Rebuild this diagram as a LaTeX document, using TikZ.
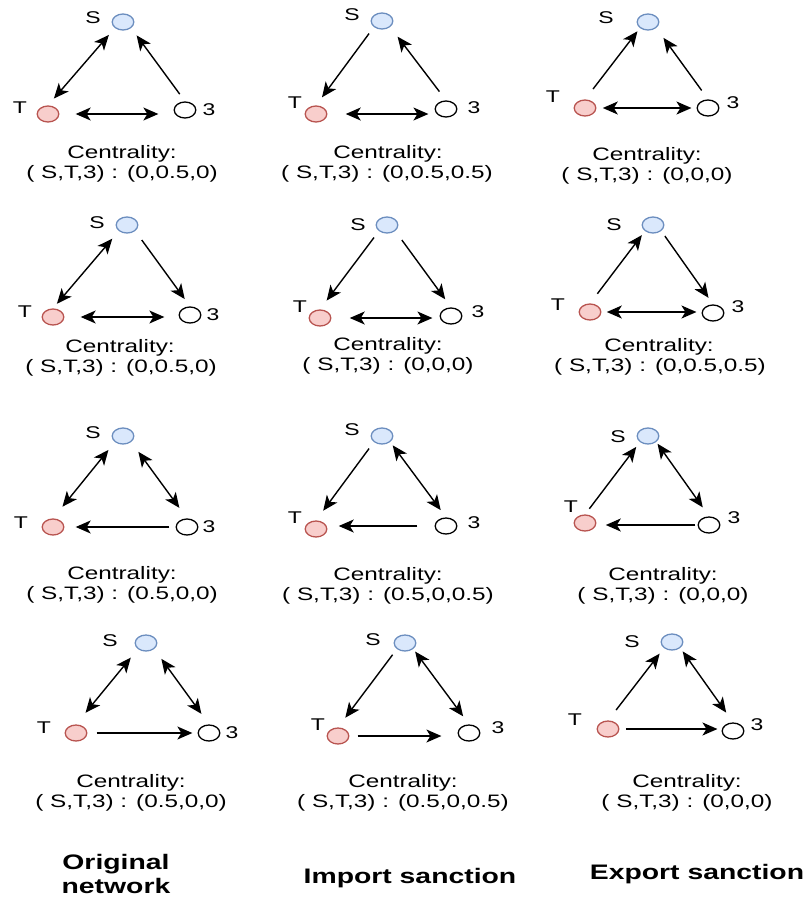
\documentclass[tikz,border=0pt]{standalone}
\usepackage{fontspec}
\setmainfont{Liberation Sans}
\usetikzlibrary{arrows.meta}
\definecolor{sfill}{HTML}{DAE8FC}
\definecolor{sdraw}{HTML}{6C8EBF}
\definecolor{tfill}{HTML}{F8CECC}
\definecolor{tdraw}{HTML}{B85450}
\tikzset{
  vtx/.style={circle, line width=1.3pt, minimum size=16pt, inner sep=0pt},
  snode/.style={vtx, draw=sdraw, fill=sfill},
  tnode/.style={vtx, draw=tdraw, fill=tfill},
  onode/.style={vtx, draw=black, fill=white},
  lbl/.style={inner sep=0pt, font=\fontsize{17}{19}\selectfont},
  cent/.style={inner sep=0pt, font=\fontsize{18}{20}\selectfont},
  ttl/.style={inner sep=0pt, align=center, font=\bfseries\fontsize{21}{24}\selectfont},
  mytip/.tip={Stealth[length=15pt,width=13pt,inset=4pt]},
  arr1/.style={line width=1.4pt, -mytip},
  arr2/.style={line width=1.4pt, mytip-mytip},
  sh/.style 2 args={shorten <=#1pt, shorten >=#2pt},
}
\begin{document}
\begin{tikzpicture}[x=0.740741pt, y=-1pt, xscale=1.35, every node/.append style={transform shape}]
\useasboundingbox (0,0) rectangle (809,900);
% ---------- Panel 1
\node[snode] (s1) at (123,22) {};
\node[lbl] (s1l) at (93,18) {S};
\node[tnode] (t1) at (48,114) {};
\node[lbl] (t1l) at (20,108) {T};
\node[onode] (o1) at (185,110) {};
\node[lbl] (o1l) at (209,110) {3};
\node[cent] (c1a) at (122,154) {Centrality:};
\node[cent] (c1b) at (122,174) {( S,T,3) : (0,0.5,0)};
\draw[arr2, sh={9}{9}] (t1.north) -- (s1.south west);
\draw[arr1, sh={9}{9}] (o1.north) -- (s1.south east);
\draw[arr2, sh={16}{15}] (t1.east) -- (t1.east -| o1.west);
% ---------- Panel 2
\node[snode] (s2) at (382,21) {};
\node[lbl] (s2l) at (352,15) {S};
\node[tnode] (t2) at (316,114) {};
\node[lbl] (t2l) at (295,103) {T};
\node[onode] (o2) at (446,109) {};
\node[lbl] (o2l) at (474,108) {3};
\node[cent] (c2a) at (388,154) {Centrality:};
\node[cent] (c2b) at (387,174) {( S,T,3) : (0,0.5,0.5)};
\draw[arr1, sh={8}{10}] (s2.south west) -- (t2.north);
\draw[arr1, sh={11}{12}] (o2.north) -- (s2.south east);
\draw[arr2, sh={18}{6}] (t2.east) -- (t2.east -| o2.west);
% ---------- Panel 3
\node[snode] (s3) at (648,22) {};
\node[lbl] (s3l) at (606,18) {S};
\node[tnode] (t3) at (585,108) {};
\node[lbl] (t3l) at (553,97) {T};
\node[onode] (o3) at (708,108) {};
\node[lbl] (o3l) at (733,103) {3};
\node[cent] (c3a) at (647,156) {Centrality:};
\node[cent] (c3b) at (647,176) {( S,T,3) : (0,0,0)};
\draw[arr1, sh={13}{4}] (t3.north) -- (s3.south west);
\draw[arr1, sh={11}{12}] (o3.north) -- (s3.south east);
\draw[arr2, sh={6}{5}] (t3.east) -- (t3.east -| o3.west);
% ---------- Panel 4
\node[snode] (s4) at (127,225) {};
\node[lbl] (s4l) at (97,223) {S};
\node[tnode] (t4) at (53,317) {};
\node[lbl] (t4l) at (25,312) {T};
\node[onode] (o4) at (190,315) {};
\node[lbl] (o4l) at (213,315) {3};
\node[cent] (c4a) at (120,348) {Centrality:};
\node[cent] (c4b) at (121,368) {( S,T,3) : (0,0.5,0)};
\draw[arr2, sh={6}{10}] (t4.north) -- (s4.south west);
\draw[arr1, sh={11}{9}] (s4.south east) -- (o4.north);
\draw[arr2, sh={16}{14}] (t4.east) -- (t4.east -| o4.west);
% ---------- Panel 5
\node[snode] (s5) at (387,225) {};
\node[lbl] (s5l) at (358,225) {S};
\node[tnode] (t5) at (320,318) {};
\node[lbl] (t5l) at (300,307) {T};
\node[onode] (o5) at (451,316) {};
\node[lbl] (o5l) at (478,312) {3};
\node[cent] (c5a) at (388,346) {Centrality:};
\node[cent] (c5b) at (388,366) {( S,T,3) : (0,0,0)};
\draw[arr1, sh={8}{11}] (s5.south west) -- (t5.north);
\draw[arr1, sh={11}{10}] (s5.south east) -- (o5.north);
\draw[arr2, sh={18}{7}] (t5.east) -- (t5.east -| o5.west);
% ---------- Panel 6
\node[snode] (s6) at (653,225) {};
\node[lbl] (s6l) at (614,225) {S};
\node[tnode] (t6) at (590,312) {};
\node[lbl] (t6l) at (558,305) {T};
\node[onode] (o6) at (713,313) {};
\node[lbl] (o6l) at (738,307) {3};
\node[cent] (c6a) at (659,347) {Centrality:};
\node[cent] (c6b) at (660,367) {( S,T,3) : (0,0.5,0.5)};
\draw[arr1, sh={12}{5}] (t6.north) -- (s6.south west);
\draw[arr1, sh={6}{8}] (s6.south east) -- (o6.north);
\draw[arr2, sh={5}{5}] (t6.east) -- (t6.east -| o6.west);
% ---------- Panel 7
\node[snode] (s7) at (123,436) {};
\node[lbl] (s7l) at (93,433) {S};
\node[tnode] (t7) at (53,527) {};
\node[lbl] (t7l) at (21,523) {T};
\node[onode] (o7) at (187,527) {};
\node[lbl] (o7l) at (209,527) {3};
\node[cent] (c7a) at (122,575) {Centrality:};
\node[cent] (c7b) at (122,595) {( S,T,3) : (0.5,0,0)};
\draw[arr2, sh={15}{10}] (t7.north) -- (s7.south west);
\draw[arr2, sh={12}{13}] (s7.south east) -- (o7.north);
\draw[arr1, sh={6}{11}] (o7.west) -- (o7.west -| t7.east);
% ---------- Panel 8
\node[snode] (s8) at (382,436) {};
\node[lbl] (s8l) at (352,430) {S};
\node[tnode] (t8) at (316,529) {};
\node[lbl] (t8l) at (295,518) {T};
\node[onode] (o8) at (446,526) {};
\node[lbl] (o8l) at (474,523) {3};
\node[cent] (c8a) at (388,576) {Centrality:};
\node[cent] (c8b) at (388,596) {( S,T,3) : (0.5,0,0.5)};
\draw[arr1, sh={8}{12}] (s8.south west) -- (t8.north);
\draw[arr2, sh={4}{9}] (s8.south east) -- (o8.north);
\draw[arr1, sh={17}{11}] (o8.west) -- (o8.west -| t8.east);
% ---------- Panel 9
\node[snode] (s9) at (648,436) {};
\node[lbl] (s9l) at (618,437) {S};
\node[tnode] (t9) at (585,523) {};
\node[lbl] (t9l) at (571,507) {T};
\node[onode] (o9) at (709,525) {};
\node[lbl] (o9l) at (734,518) {3};
\node[cent] (c9a) at (663,576) {Centrality:};
\node[cent] (c9b) at (663,596) {( S,T,3) : (0,0,0)};
\draw[arr1, sh={7}{6}] (t9.north) -- (s9.south west);
\draw[arr2, sh={2}{11}] (s9.south east) -- (o9.north);
\draw[arr1, sh={2}{9}] (o9.west) -- (o9.west -| t9.east);
% ---------- Panel 10
\node[snode] (s10) at (146,643) {};
\node[lbl] (s10l) at (110,641) {S};
\node[tnode] (t10) at (76,733) {};
\node[lbl] (t10l) at (44,728) {T};
\node[onode] (o10) at (209,733) {};
\node[lbl] (o10l) at (232,733) {3};
\node[cent] (c10a) at (131,783) {Centrality:};
\node[cent] (c10b) at (131,803) {( S,T,3) : (0.5,0,0)};
\draw[arr2, sh={15}{11}] (t10.north) -- (s10.south west);
\draw[arr2, sh={12}{13}] (s10.south east) -- (o10.north);
\draw[arr1, sh={9}{5}] (t10.east) -- (t10.east -| o10.west);
% ---------- Panel 11
\node[snode] (s11) at (405,643) {};
\node[lbl] (s11l) at (373,640) {S};
\node[tnode] (t11) at (338,736) {};
\node[lbl] (t11l) at (318,725) {T};
\node[onode] (o11) at (469,733) {};
\node[lbl] (o11l) at (498,728) {3};
\node[cent] (c11a) at (403,783) {Centrality:};
\node[cent] (c11b) at (403,803) {( S,T,3) : (0.5,0,0.5)};
\draw[arr1, sh={7}{12}] (s11.south west) -- (t11.north);
\draw[arr2, sh={3}{10}] (s11.south east) -- (o11.north);
\draw[arr1, sh={8}{16}] (t11.east) -- (t11.east -| o11.west);
% ---------- Panel 12
\node[snode] (s12) at (672,642) {};
\node[lbl] (s12l) at (632,642) {S};
\node[tnode] (t12) at (608,729) {};
\node[lbl] (t12l) at (575,720) {T};
\node[onode] (o12) at (733,731) {};
\node[lbl] (o12l) at (757,725) {3};
\node[cent] (c12a) at (687,783) {Centrality:};
\node[cent] (c12b) at (687,803) {( S,T,3) : (0,0,0)};
\draw[arr1, sh={13}{7}] (t12.north) -- (s12.south west);
\draw[arr2, sh={4}{12}] (s12.south east) -- (o12.north);
\draw[arr1, sh={6}{4}] (t12.east) -- (t12.east -| o12.west);
% ---------- Titles
\node[ttl] (ta) at (116,874) {Original\\network};
\node[ttl] (tb) at (410,878) {Import sanction};
\node[ttl] (tc) at (697,874) {Export sanction};
\end{tikzpicture}
\end{document}
